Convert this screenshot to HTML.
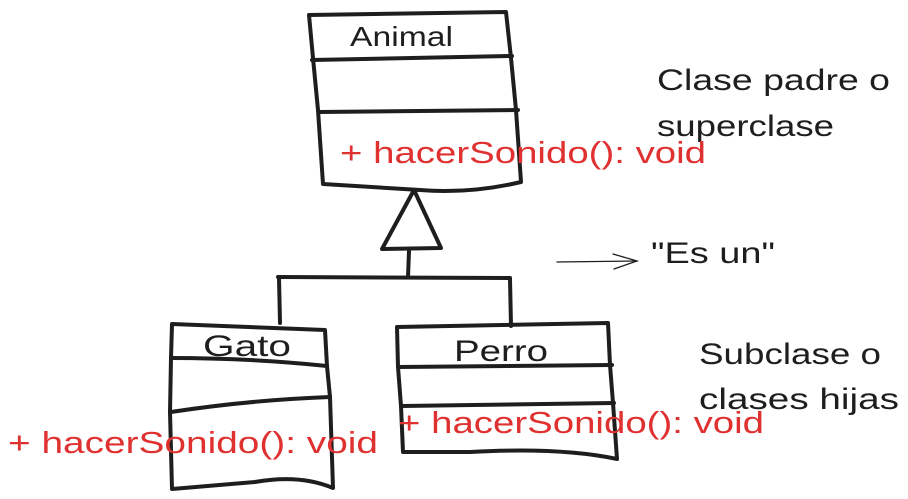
<!DOCTYPE html>
<html><head><meta charset="utf-8"><style>
html,body{margin:0;padding:0;background:#fff;width:908px;height:499px;overflow:hidden}
svg{display:block}
text{font-family:"Liberation Sans",sans-serif}
</style></head><body>
<svg width="908" height="499" viewBox="0 0 908 499" xmlns="http://www.w3.org/2000/svg">
<g fill="none" stroke="#1e1e1e" stroke-width="4" stroke-linecap="round" stroke-linejoin="round">
<!-- Animal -->
<path d="M309 15 L506 12 L511 58 L516 110 L521 182 Q470 194 420 190 L323 184 L318 110 L313 58 Z"/>
<path d="M312 60 L512 56"/>
<path d="M319 112 L518 110"/>
<!-- triangle -->
<path d="M414 190 L441 248 L382 249 Z"/>
<path d="M409 251 L408 277"/>
<path d="M278 277 L510 278"/>
<path d="M279 278 L280 323"/>
<path d="M510 279 L511 326"/>
<!-- Gato -->
<path d="M172 324 L325 330 L327 366 L330 397 L333 488 Q300 474 255 482 L172 489 L170 412 L171 358 Z"/>
<path d="M171 358 Q250 358 327 366"/>
<path d="M171 412 Q250 400 330 397"/>
<!-- Perro -->
<path d="M397 327 L608 323 L610 365 L613 403 L617 459 Q560 447 470 452 L403 452 L401 406 L398 367 Z"/>
<path d="M398 367 L612 365"/>
<path d="M402 406 L614 403"/>
</g>
<!-- arrow -->
<g fill="none" stroke="#1e1e1e" stroke-width="1.3" stroke-linecap="round">
<path d="M557 262 L637 261"/>
<path d="M613 254 L637 261 L614 269"/>
</g>
<g fill="#1e1e1e" font-size="30">
<text x="350" y="46" textLength="103" lengthAdjust="spacingAndGlyphs" font-size="28">Animal</text>
<text x="203" y="356" textLength="88" lengthAdjust="spacingAndGlyphs">Gato</text>
<text x="454" y="361" textLength="94" lengthAdjust="spacingAndGlyphs">Perro</text>
<text x="657" y="90" textLength="233" lengthAdjust="spacingAndGlyphs">Clase padre o</text>
<text x="657" y="136" textLength="177" lengthAdjust="spacingAndGlyphs">superclase</text>
<text x="651" y="263" textLength="124" lengthAdjust="spacingAndGlyphs">"Es un"</text>
<text x="699" y="364" textLength="182" lengthAdjust="spacingAndGlyphs">Subclase o</text>
<text x="699" y="409" textLength="200" lengthAdjust="spacingAndGlyphs">clases hijas</text>
</g>
<g fill="#e03131" font-size="31">
<text x="340" y="163" textLength="366" lengthAdjust="spacingAndGlyphs">+ hacerSonido(): void</text>
<text x="8" y="453" textLength="370" lengthAdjust="spacingAndGlyphs">+ hacerSonido(): void</text>
<text x="398" y="433" textLength="366" lengthAdjust="spacingAndGlyphs">+ hacerSonido(): void</text>
</g>
</svg>
</body></html>
